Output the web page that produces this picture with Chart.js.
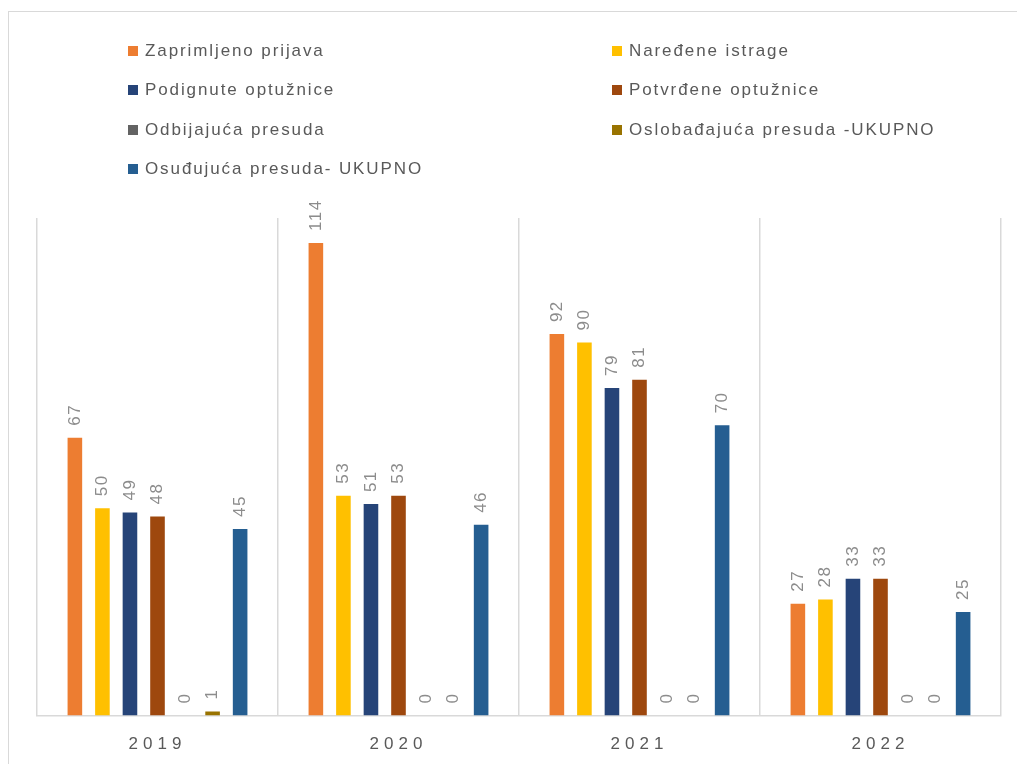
<!DOCTYPE html>
<html>
<head>
<meta charset="utf-8">
<script src="https://cdn.jsdelivr.net/npm/chart.js@4.4.1/dist/chart.umd.min.js"></script>
<style>
    html, body { margin: 0; padding: 0; background: #fff; overflow: hidden; }
    #wrap { position: relative; width: 1017px; height: 784px; }
    #frame {
        position: absolute; left: 8px; top: 11px; width: 1100px; height: 800px;
        border-left: 1.5px solid #d9d9d9; border-top: 1.5px solid #d9d9d9;
    }
    #legend {
        position: absolute; left: 128px; top: 41px;
        display: grid; grid-template-columns: 484px 380px; grid-auto-rows: 39.3px;
        font-family: "Liberation Sans", Arial, sans-serif; font-size: 17px; color: #595959;
        letter-spacing: 1.9px;
    }
    .item { display: flex; align-items: center; height: 20px; white-space: nowrap; }
    .box { flex: 0 0 10px; width: 10px; height: 10px; margin-right: 7px; }
</style>
</head>
<body>
<div id="wrap">
    <div id="frame"></div>
    <div id="legend"></div>
    <canvas id="chart"></canvas>
</div>
<script>
// podaci sa grafika
const years = ['2019', '2020', '2021', '2022'];
const seriesNames = [
    'Zaprimljeno prijava',
    'Naređene istrage',
    'Podignute optužnice',
    'Potvrđene optužnice',
    'Odbijajuća presuda',
    'Oslobađajuća presuda -UKUPNO',
    'Osuđujuća presuda- UKUPNO'
];
const zaprimljeno = [67, 114, 92, 27];
const istrage = [50, 53, 90, 28];
const podignute = [49, 51, 79, 33];
const potvrdjene = [48, 53, 81, 33];
const odbijajuca = [0, 0, 0, 0];
const oslobadjajuca = [1, 0, 0, 0];
const osudjujuca = [45, 46, 70, 25];

const colors = ['#ED7D31', '#FFC000', '#264478', '#9E480E', '#636363', '#997300', '#255E91'];
const allValues = [zaprimljeno, istrage, podignute, potvrdjene, odbijajuca, oslobadjajuca, osudjujuca];

// legenda u dva stupca
const legendEl = document.getElementById('legend');
seriesNames.forEach((name, i) => {
    const item = document.createElement('div');
    item.className = 'item';
    item.innerHTML = '<span class="box" style="background:' + colors[i] + '"></span><span>' + name + '</span>';
    legendEl.appendChild(item);
});

// natpisi vrijednosti iznad stupaca, okrenuti okomito
const valueLabels = {
    id: 'valueLabels',
    afterDatasetsDraw(chart) {
        const ctx = chart.ctx;
        ctx.save();
        ctx.letterSpacing = '1.5px';
        ctx.font = '17px "Liberation Sans", Arial, sans-serif';
        ctx.fillStyle = '#8c8c8c';
        ctx.textAlign = 'left';
        ctx.textBaseline = 'middle';
        chart.data.datasets.forEach((ds, i) => {
            const meta = chart.getDatasetMeta(i);
            meta.data.forEach((bar, j) => {
                ctx.save();
                ctx.translate(bar.x, bar.y - 12);
                ctx.rotate(-Math.PI / 2);
                ctx.fillText(String(ds.data[j]), 0, 0);
                ctx.restore();
            });
        });
        ctx.restore();
    }
};

// razmak slova za godine na osi
const spacedTicks = {
    id: 'spacedTicks',
    beforeDraw(chart) {
        chart.ctx.letterSpacing = '5px';
    }
};

const ctx = document.getElementById('chart').getContext('2d');
const chart = new Chart(ctx, {
    type: 'bar',
    data: {
        labels: years,
        datasets: seriesNames.map((name, i) => ({
            label: name,
            data: allValues[i],
            backgroundColor: colors[i],
            borderWidth: 0
        }))
    },
    options: {
        responsive: true,
        maintainAspectRatio: false,
        animation: false,
        categoryPercentage: 0.8,
        barPercentage: 0.53,
        layout: {
            padding: { left: 37, right: 16, top: 218, bottom: 10 }
        },
        plugins: {
            legend: { display: false },
            tooltip: { enabled: false }
        },
        scales: {
            x: {
                grid: { color: '#d9d9d9', lineWidth: 1.5, drawTicks: false },
                border: { color: '#d9d9d9', width: 1.5 },
                ticks: {
                    color: '#595959',
                    padding: 19,
                    font: { family: '"Liberation Sans", Arial, sans-serif', size: 17 }
                }
            },
            y: {
                display: false,
                min: 0,
                max: 120
            }
        }
    },
    plugins: [spacedTicks, valueLabels]
});
</script>
</body>
</html>
